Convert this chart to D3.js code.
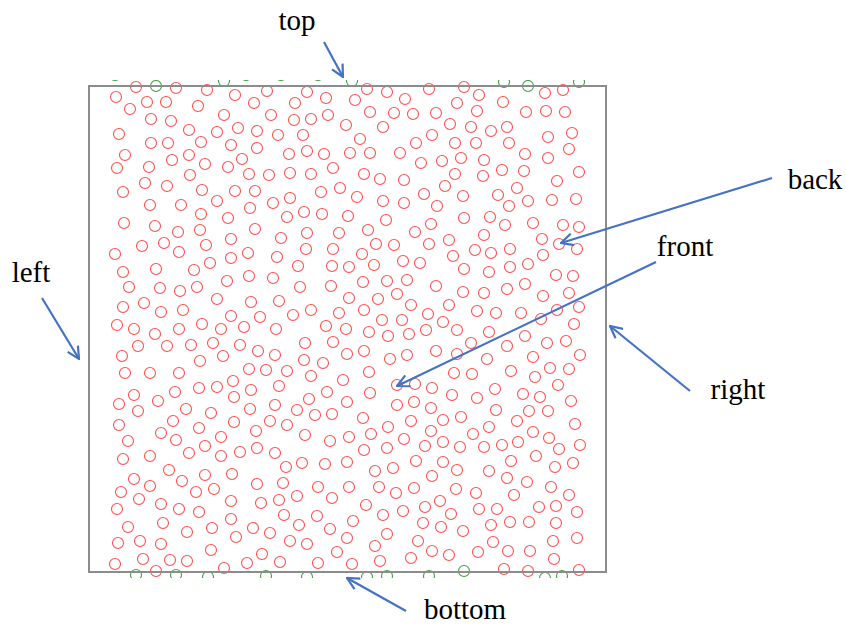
<!DOCTYPE html>
<html>
<head>
<meta charset="utf-8">
<script src="https://cdn.jsdelivr.net/npm/d3@7"></script>
<style>
  body { margin: 0; background: #fff; }
</style>
</head>
<body>
<svg id="chart" width="846" height="627"></svg>
<script>
// particle centres (frame of the box: x 89..606, y 86..572)
const particles = [
  // upper left
  [136,87],[176,88],[116,97],[147,102],[166,102],[130,109],[207,90],[235,95],[198,106],[254,103],
  [224,115],[151,119],[171,121],[119,134],[189,130],[217,132],[238,128],[257,131],[151,143],[168,143],
  [201,142],[231,145],[257,148],[125,155],[189,155],[172,160],[242,159],[117,168],[149,167],[205,164],
  [228,167],[190,175],[249,174],[145,183],[167,186],[123,192],[202,190],[235,191],[255,191],[150,205],
  [181,205],[217,201],[250,208],
  // upper middle
  [267,91],[307,92],[326,98],[295,103],[355,100],[367,89],[387,92],[405,99],[429,89],[271,115],
  [294,120],[311,119],[328,115],[370,112],[394,113],[413,114],[436,113],[346,125],[383,127],[278,135],
  [303,135],[360,139],[432,135],[289,154],[307,151],[324,154],[350,153],[370,153],[400,153],[416,143],
  [421,163],[333,168],[269,175],[290,173],[311,174],[364,174],[380,179],[404,180],[321,192],[340,188],
  [357,197],[424,194],[273,203],[290,198],[383,201],[404,203],
  // upper right
  [464,87],[479,95],[457,103],[477,111],[503,102],[526,112],[545,93],[563,90],[546,111],[565,112],
  [450,124],[471,127],[491,131],[507,127],[455,143],[476,143],[509,143],[548,137],[572,133],[569,149],
  [525,154],[442,161],[461,158],[484,160],[548,158],[455,174],[483,176],[502,170],[524,171],[579,172],
  [557,181],[445,186],[463,196],[498,195],[517,188],[528,201],[552,200],[576,199],[509,206],[437,206],
  // second band left
  [201,214],[228,218],[124,223],[155,226],[178,232],[200,230],[255,229],[142,246],[164,243],[179,252],
  [206,245],[231,239],[115,254],[210,263],[231,258],[248,253],[123,272],[156,269],[194,270],[129,287],
  [160,288],[180,291],[197,287],[227,281],[249,276],[217,299],[251,302],[123,307],[144,303],[161,312],
  [183,310],[231,316],[260,317],
  // second band middle
  [287,217],[304,212],[322,214],[348,216],[386,220],[281,238],[307,233],[339,233],[368,230],[415,232],
  [431,224],[277,257],[306,249],[333,249],[376,244],[394,245],[429,244],[362,254],[298,266],[332,266],
  [349,267],[374,265],[403,261],[420,263],[273,278],[300,287],[331,286],[363,282],[387,281],[407,280],
  [436,286],[279,301],[349,298],[378,299],[397,294],[411,305],[293,315],[311,310],[339,313],[364,310],
  [382,320],[402,320],[428,314],
  // second band right
  [464,218],[490,217],[505,225],[533,223],[563,225],[579,227],[484,235],[449,240],[542,239],[559,244],
  [577,249],[475,250],[491,253],[510,249],[453,256],[543,255],[464,269],[489,272],[510,267],[528,264],
  [556,275],[573,276],[463,292],[484,293],[507,289],[525,284],[543,296],[569,293],[449,305],[477,311],
  [496,313],[521,313],[541,319],[557,310],[579,307],[443,322],[574,324],
  // third band left
  [117,325],[134,329],[155,334],[179,329],[202,324],[221,329],[244,327],[138,346],[167,346],[191,345],
  [213,343],[240,345],[258,351],[122,356],[200,361],[223,356],[125,373],[150,373],[179,373],[249,369],
  [199,388],[217,387],[233,381],[134,395],[175,392],[251,390],[119,404],[158,401],[234,397],[138,411],
  [186,409],[211,413],[250,409],[173,421],[119,425],[199,428],[234,422],[161,433],[256,431],[128,441],
  [176,440],[221,437],[205,446],
  // third band middle
  [276,329],[326,326],[346,329],[369,332],[388,336],[409,334],[426,330],[305,343],[333,342],[275,355],
  [304,360],[323,363],[347,354],[364,351],[390,359],[407,355],[436,351],[266,370],[287,371],[311,376],
  [343,380],[369,372],[397,385],[415,384],[432,388],[279,386],[327,392],[370,393],[309,399],[347,402],
  [275,405],[297,410],[315,415],[332,414],[363,418],[397,405],[414,402],[431,408],[270,421],[287,425],
  [305,435],[349,437],[371,434],[388,427],[411,421],[431,431],[330,441],[404,439],[425,446],
  // third band right
  [457,330],[489,332],[471,343],[525,336],[547,343],[566,341],[507,346],[457,354],[487,359],[533,357],
  [580,355],[454,373],[472,374],[511,371],[550,368],[569,369],[535,377],[558,385],[495,389],[452,395],
  [477,398],[523,394],[540,397],[571,401],[496,410],[529,411],[548,411],[461,417],[443,420],[517,421],
  [575,424],[489,427],[473,434],[533,432],[549,438],[443,442],[484,447],[502,445],[518,442],[580,445],
  [559,449],
  // lower left
  [123,459],[150,456],[189,453],[221,456],[240,452],[257,448],[169,470],[134,479],[150,486],[182,481],
  [205,475],[232,474],[257,484],[121,492],[139,499],[196,492],[214,489],[161,504],[179,509],[117,509],
  [199,512],[231,501],[261,503],[128,527],[163,523],[187,532],[212,528],[231,519],[253,528],[236,537],
  [118,543],[140,541],[161,544],[211,550],[262,554],[115,564],[143,559],[170,560],[187,561],[247,563],
  [224,568],[156,571],
  // lower middle
  [275,453],[364,450],[387,448],[286,467],[302,463],[325,464],[347,462],[375,471],[393,468],[416,461],
  [432,476],[283,483],[318,487],[349,487],[379,487],[396,493],[414,488],[279,500],[297,496],[332,498],
  [366,505],[425,507],[284,515],[317,516],[383,515],[403,511],[299,525],[330,529],[353,521],[423,523],
  [270,533],[290,541],[307,544],[347,538],[387,534],[418,541],[375,546],[432,551],[337,552],[280,562],
  [318,563],[352,564],[380,561],[411,558],
  // lower right
  [460,447],[443,462],[457,470],[489,471],[511,461],[536,456],[555,467],[573,463],[507,478],[527,482],
  [456,489],[476,493],[514,495],[551,487],[569,495],[440,501],[451,514],[479,509],[497,509],[539,507],
  [556,506],[577,512],[441,527],[463,531],[491,525],[510,522],[529,522],[556,523],[493,542],[553,541],
  [577,538],[449,555],[478,552],[508,551],[530,551],[554,559],[504,569],[528,571],[579,570]
]

// periodic images poking out past the top and bottom walls
const ghostsTop = [[115,75],[156,86],[224,81],[246,75],[281,75],[318,75],[352,81],[504,82],[528,86],[579,82]]
const ghostsBottom = [[136,575],[176,575],[208,577],[266,576],[307,577],[367,577],[387,576],[429,576],[464,571],[545,578],[562,576]]

const boxX = [89, 606], boxY = [86, 572]

// label, text anchor, arrow tail, arrow tip
const labels = [
  {text: "top",    tx: 297, ty: 30,  from: [324, 42],  to: [343, 77]},
  {text: "back",   tx: 815, ty: 189, from: [772, 178], to: [561, 243]},
  {text: "front",  tx: 685, ty: 256, from: [656, 262], to: [397, 386]},
  {text: "left",   tx: 31,  ty: 282, from: [42, 298],  to: [79, 359]},
  {text: "right",  tx: 738, ty: 399, from: [690, 391], to: [610, 326]},
  {text: "bottom", tx: 465, ty: 619, from: [406, 611], to: [347, 578]}
]

const svg = d3.select("#chart")

const x = d3.scaleLinear().domain(boxX).range([89, 606])
const y = d3.scaleLinear().domain(boxY).range([86, 572])
const r = 5.5

svg.append("defs").append("clipPath").attr("id", "clip")
  .append("rect")
    .attr("x", x(boxX[0]) - 10).attr("y", y(boxY[0]) - 6)
    .attr("width", x(boxX[1]) - x(boxX[0]) + 20).attr("height", y(boxY[1]) - y(boxY[0]) + 12)

svg.select("defs").append("marker")
    .attr("id", "head")
    .attr("viewBox", "0 0 14 14")
    .attr("refX", 13).attr("refY", 7)
    .attr("markerWidth", 14).attr("markerHeight", 14)
    .attr("markerUnits", "userSpaceOnUse")
    .attr("orient", "auto")
  .append("path")
    .attr("d", "M1,1 L13,7 L1,13")
    .attr("fill", "none")
    .attr("stroke", "#4472c4")
    .attr("stroke-width", 2.2)

const plot = svg.append("g").attr("clip-path", "url(#clip)")

plot.selectAll("circle.ghost")
  .data(ghostsTop.concat(ghostsBottom))
  .join("circle").attr("class", "ghost")
    .attr("cx", d => x(d[0]))
    .attr("cy", d => y(d[1]))
    .attr("r", r)
    .attr("fill", "none")
    .attr("stroke", "#45a045")
    .attr("stroke-width", 1.1)

svg.append("rect")
  .attr("x", x(boxX[0])).attr("y", y(boxY[0]))
  .attr("width", x(boxX[1]) - x(boxX[0]))
  .attr("height", y(boxY[1]) - y(boxY[0]))
  .attr("fill", "none")
  .attr("stroke", "#8c8c8c")
  .attr("stroke-width", 2)

plot.selectAll("circle.p")
  .data(particles)
  .join("circle").attr("class", "p")
    .attr("cx", d => x(d[0]))
    .attr("cy", d => y(d[1]))
    .attr("r", r)
    .attr("fill", "none")
    .attr("stroke", "#ff5050")
    .attr("stroke-width", 1.1)

const notes = svg.append("g")
notes.selectAll("line")
  .data(labels)
  .join("line")
    .attr("x1", d => d.from[0]).attr("y1", d => d.from[1])
    .attr("x2", d => d.to[0]).attr("y2", d => d.to[1])
    .attr("stroke", "#4472c4")
    .attr("stroke-width", 2.2)
    .attr("marker-end", "url(#head)")

notes.selectAll("text")
  .data(labels)
  .join("text")
    .attr("x", d => d.tx).attr("y", d => d.ty)
    .attr("text-anchor", "middle")
    .attr("font-family", "'Liberation Serif', 'DejaVu Serif', serif")
    .attr("font-size", 29)
    .attr("fill", "#000")
    .text(d => d.text)
</script>
</body>
</html>
